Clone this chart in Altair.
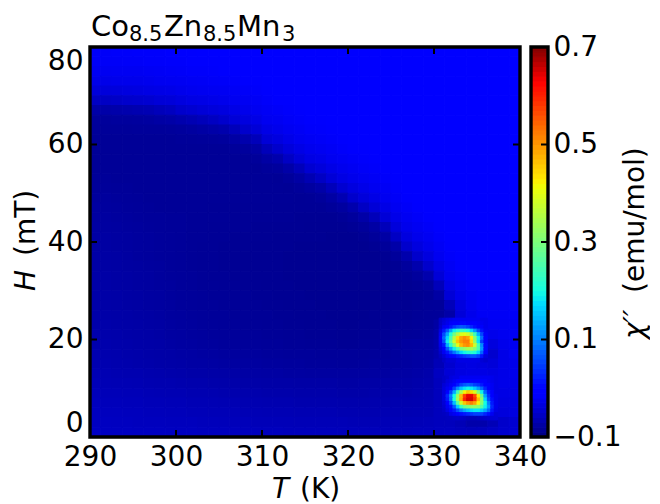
import altair as alt
import pandas as pd

FONT = "DejaVu Sans"
FS = 28

# chi'' background in units of 0.001 emu/mol: 1.25 K x 2 mT cells.
# Rows run from H=79 down to H=1; a short row keeps its last value up to T=340.
bg_T = [290.625, 291.875, 293.125, 294.375, 295.625, 296.875, 298.125, 299.375, 300.625, 301.875,
        303.125, 304.375, 305.625, 306.875, 308.125, 309.375, 310.625, 311.875, 313.125, 314.375,
        315.625, 316.875, 318.125, 319.375, 320.625, 321.875, 323.125, 324.375, 325.625, 326.875,
        328.125, 329.375, 330.625, 331.875, 333.125, 334.375, 335.625, 336.875, 338.125, 339.375]
bg_H = [79, 77, 75, 73, 71, 69, 67, 65, 63, 61, 59, 57, 55, 53, 51, 49, 47, 45, 43, 41,
        39, 37, 35, 33, 31, 29, 27, 25, 23, 21, 19, 17, 15, 13, 11, 9, 7, 5, 3, 1]
bg_rows = [
 [-16,-16,-15,-15,-14,-14,-14,-13,-13,-13,-12],
 [-17,-17,-17,-16,-16,-15,-15,-14,-14,-13,-13,-13,-13,-12],
 [-21,-21,-20,-20,-20,-19,-18,-17,-16,-15,-15,-14,-13,-13,-12],
 [-27,-27,-26,-25,-25,-24,-22,-21,-20,-19,-18,-17,-16,-15,-13,-13,-12],
 [-37,-37,-36,-34,-33,-31,-29,-28,-25,-23,-22,-21,-20,-18,-16,-15,-13,-12],
 [-53,-53,-51,-47,-46,-44,-40,-38,-34,-31,-29,-27,-25,-22,-20,-18,-15,-13,-13,-12],
 [-72,-72,-71,-69,-67,-65,-60,-56,-47,-44,-40,-37,-34,-29,-25,-22,-18,-16,-14,-13,-12],
 [-81,-81,-80,-80,-79,-78,-75,-73,-69,-65,-60,-54,-47,-40,-34,-29,-22,-20,-17,-15,-13,-13,-12],
 [-83,-83,-83,-83,-82,-82,-82,-81,-80,-78,-75,-72,-69,-60,-47,-40,-29,-25,-21,-18,-15,-14,-13,-12],
 [-84,-84,-84,-84,-84,-84,-84,-84,-83,-83,-82,-81,-80,-75,-69,-60,-40,-34,-27,-22,-19,-17,-15,-13,-12],
 [-84,-84,-84,-84,-84,-84,-84,-84,-84,-84,-84,-84,-84,-82,-80,-75,-60,-47,-37,-29,-24,-21,-18,-15,-13,-13,-12],
 [-84,-84,-84,-84,-84,-84,-84,-84,-84,-84,-84,-84,-84,-84,-84,-82,-75,-69,-53,-40,-31,-27,-22,-19,-16,-14,-13,-12],
 [-84,-84,-84,-84,-84,-84,-84,-84,-84,-84,-84,-84,-84,-84,-84,-85,-82,-80,-72,-60,-44,-37,-29,-24,-20,-17,-15,-13,-12],
 [-83,-83,-84,-84,-84,-84,-84,-84,-84,-84,-84,-84,-84,-84,-84,-84,-84,-85,-81,-75,-65,-53,-40,-31,-25,-21,-18,-15,-13,-12],
 [-82,-82,-83,-83,-84,-84,-84,-84,-84,-84,-84,-84,-84,-84,-84,-84,-84,-84,-85,-82,-78,-72,-60,-44,-34,-27,-22,-18,-14,-12],
 [-80,-80,-81,-82,-83,-84,-84,-84,-84,-84,-84,-84,-84,-84,-84,-84,-84,-84,-84,-85,-84,-81,-75,-65,-47,-37,-29,-22,-17,-13,-12],
 [-78,-79,-80,-81,-82,-83,-84,-84,-84,-84,-84,-85,-85,-85,-85,-85,-85,-85,-85,-85,-85,-85,-82,-78,-69,-53,-40,-29,-21,-16,-13,-12],
 [-77,-78,-79,-80,-81,-82,-82,-83,-83,-84,-84,-84,-84,-85,-85,-85,-85,-85,-85,-86,-86,-86,-86,-84,-80,-72,-60,-40,-27,-20,-16,-13,-12],
 [-76,-77,-78,-79,-80,-81,-82,-83,-83,-84,-84,-85,-85,-85,-85,-86,-86,-86,-86,-86,-87,-87,-87,-87,-85,-81,-75,-60,-37,-25,-20,-16,-13,-12],
 [-75,-76,-77,-78,-79,-80,-81,-82,-83,-84,-84,-85,-85,-86,-86,-86,-86,-87,-87,-87,-87,-87,-88,-88,-88,-86,-82,-75,-53,-34,-25,-20,-15,-12],
 [-75,-76,-77,-78,-79,-80,-81,-82,-83,-84,-85,-85,-86,-86,-86,-87,-87,-87,-87,-88,-88,-88,-88,-88,-88,-88,-86,-82,-72,-47,-34,-25,-18,-13,-12],
 [-74,-75,-76,-77,-79,-80,-81,-82,-83,-84,-85,-85,-86,-86,-87,-87,-87,-87,-88,-88,-88,-88,-88,-88,-88,-88,-88,-87,-81,-69,-47,-34,-22,-15,-12],
 [-74,-75,-76,-77,-78,-79,-80,-82,-83,-84,-85,-85,-86,-86,-87,-87,-87,-87,-88,-88,-88,-88,-88,-88,-88,-88,-88,-88,-86,-80,-69,-47,-29,-18,-13,-12],
 [-73,-74,-75,-76,-77,-78,-80,-81,-82,-83,-84,-85,-85,-86,-86,-87,-87,-87,-88,-88,-88,-88,-88,-88,-88,-88,-88,-88,-87,-85,-80,-69,-40,-22,-16,-13],
 [-73,-74,-75,-76,-77,-78,-79,-80,-82,-83,-84,-84,-85,-85,-86,-86,-87,-87,-87,-88,-88,-88,-88,-88,-88,-88,-88,-88,-88,-87,-85,-80,-60,-29,-20,-15,-14],
 [-72,-73,-74,-75,-76,-77,-78,-80,-81,-82,-83,-84,-84,-85,-85,-86,-86,-87,-87,-87,-88,-88,-88,-88,-88,-88,-88,-88,-88,-87,-86,-84,-75,-40,-25,-18,-15],
 [-72,-73,-74,-75,-76,-77,-78,-79,-81,-82,-83,-83,-84,-84,-85,-85,-86,-86,-87,-87,-87,-88,-88,-88,-88,-88,-88,-88,-87,-87,-85,-83,-82,-60,-34,-22,-16,-16,-16,-15],
 [-71,-72,-73,-74,-75,-76,-77,-79,-80,-81,-82,-83,-83,-84,-84,-85,-85,-86,-86,-87,-87,-87,-88,-88,-88,-88,-87,-87,-86,-86,-84,-83,-82,-72,-38,-25,-18,-18,-18,-17],
 [-70,-71,-72,-73,-74,-75,-76,-78,-79,-80,-81,-82,-83,-83,-84,-84,-85,-85,-86,-86,-87,-87,-87,-88,-88,-87,-87,-86,-85,-84,-83,-82,-75,-50,-40,-30,-25,-20,-20,-20],
 [-69,-70,-71,-72,-73,-74,-75,-77,-78,-79,-80,-81,-82,-82,-83,-83,-84,-84,-85,-85,-86,-86,-86,-87,-87,-86,-86,-85,-84,-83,-82,-80,-72,-50,-40,-30,-30,-25,-22,-20],
 [-68,-69,-70,-71,-72,-73,-74,-76,-77,-78,-79,-80,-81,-81,-82,-82,-83,-83,-84,-84,-85,-85,-85,-86,-86,-85,-85,-84,-82,-78,-77,-77,-70,-50,-40,-30,-30,-35,-25,-22],
 [-67,-68,-69,-70,-71,-72,-73,-74,-75,-76,-77,-78,-79,-79,-80,-80,-81,-81,-82,-82,-82,-83,-83,-83,-83,-83,-82,-82,-80,-78,-76,-75,-68,-50,-40,-30,-30,-45,-28,-22],
 [-66,-67,-68,-69,-70,-71,-72,-73,-74,-75,-75,-76,-77,-77,-78,-78,-79,-79,-80,-80,-81,-81,-81,-82,-82,-81,-80,-80,-79,-78,-76,-74,-62,-45,-35,-32,-35,-38,-28,-26],
 [-64,-65,-66,-67,-67,-68,-69,-70,-71,-72,-72,-73,-74,-74,-75,-75,-76,-76,-77,-77,-78,-78,-78,-78,-78,-78,-77,-77,-76,-75,-73,-70,-55,-40,-32,-30,-30,-32,-28,-26],
 [-62,-63,-64,-64,-65,-66,-67,-67,-68,-69,-69,-70,-71,-71,-72,-72,-73,-73,-73,-74,-74,-74,-74,-75,-75,-74,-74,-73,-73,-72,-70,-68,-58,-45,-35,-30,-28,-28,-27,-27],
 [-60,-61,-61,-62,-62,-63,-64,-65,-65,-66,-66,-67,-68,-68,-69,-69,-70,-70,-70,-71,-71,-71,-71,-72,-72,-72,-71,-71,-70,-70,-68,-66,-58,-50,-40,-30,-30,-30,-30,-30],
 [-58,-59,-59,-60,-60,-61,-61,-62,-62,-63,-63,-64,-65,-65,-66,-66,-67,-67,-67,-68,-68,-68,-68,-69,-69,-69,-68,-68,-67,-67,-66,-65,-58,-50,-40,-30,-30,-30,-33,-32],
 [-56,-57,-57,-58,-58,-59,-59,-60,-60,-61,-61,-62,-62,-62,-63,-63,-64,-64,-64,-65,-65,-65,-65,-66,-66,-66,-66,-65,-65,-65,-64,-63,-58,-55,-55,-55,-50,-45,-36,-34],
 [-55,-55,-56,-56,-57,-57,-57,-58,-58,-58,-59,-59,-60,-60,-60,-61,-61,-61,-61,-62,-62,-62,-62,-62,-63,-63,-63,-62,-62,-62,-61,-60,-58,-58,-62,-70,-70,-62,-48,-44],
 [-53,-54,-54,-54,-55,-55,-55,-56,-56,-56,-57,-57,-57,-57,-58,-58,-58,-58,-59,-59,-59,-59,-59,-60,-60,-60,-60,-60,-59,-59,-58,-58,-56,-55,-58,-60,-58,-52,-46,-43],
]

# finer cells around the upper peak: 0.4 K x 0.75 mT, same units
b1_T = [330.8, 331.2, 331.6, 332.0, 332.4, 332.8, 333.2, 333.6, 334.0, 334.4, 334.8, 335.2, 335.6, 336.0]
b1_H = [24.0, 23.25, 22.5, 21.75, 21.0, 20.25, 19.5, 18.75, 18.0, 17.25, 16.5, 15.75]
b1_rows = [
 [-50,-40,-30,-25,-20,-20,-20,-20,-20,-20,-20,-20,-25,-25],
 [-50,-35,-25,-15,-10,0,5,5,0,-10,-10,-15,-20,-25],
 [-45,-20,-5,15,40,60,70,65,50,30,10,-5,-15,-25],
 [-30,20,70,130,190,220,235,230,210,170,120,60,15,-20],
 [-20,60,130,210,290,350,390,400,380,320,240,140,55,-15],
 [-15,80,170,250,350,440,490,510,490,420,310,190,85,-10],
 [-20,60,190,270,380,460,500,520,520,440,320,180,50,-10],
 [-25,20,140,220,310,400,470,500,510,470,380,250,110,5],
 [-35,0,70,130,190,250,300,320,340,340,310,250,120,5],
 [-45,-20,15,50,90,130,170,195,210,220,210,170,80,-10],
 [-55,-40,-20,-10,5,20,30,45,55,65,65,50,15,-35],
 [-62,-50,-40,-40,-40,-30,-30,-30,-30,-30,-30,-30,-40,-45],
]

# finer cells around the lower peak
b2_T = [331.2, 331.6, 332.0, 332.4, 332.8, 333.2, 333.6, 334.0, 334.4, 334.8, 335.2, 335.6, 336.0, 336.4, 336.8, 337.2]
b2_H = [12.125, 11.375, 10.625, 9.875, 9.125, 8.375, 7.625, 6.875, 6.125, 5.375, 4.625, 3.875]
b2_rows = [
 [-50,-45,-35,-30,-30,-20,-20,-20,-20,-20,-20,-20,-20,-20,-25,-30],
 [-50,-35,-30,-20,-10,0,0,0,0,0,0,-10,-10,-20,-25,-30],
 [-40,-30,-20,0,20,50,70,80,70,50,40,20,0,-10,-20,-30],
 [-35,-20,0,50,110,150,180,195,185,160,120,80,30,0,-20,-30],
 [-35,-5,50,130,240,340,420,460,440,390,300,190,80,20,-10,-30],
 [-35,30,100,200,330,470,580,640,640,570,430,280,130,40,0,-25],
 [-35,20,90,210,340,480,600,650,650,590,470,320,170,60,10,-25],
 [-40,-5,50,150,270,380,460,500,520,490,420,310,200,100,20,-25],
 [-45,-20,10,70,160,230,280,300,320,320,310,260,190,120,30,-25],
 [-50,-30,-10,20,60,100,130,150,170,180,180,160,130,80,15,-30],
 [-55,-50,-30,-20,0,10,20,30,40,50,50,50,30,10,-20,-40],
 [-58,-56,-55,-52,-50,-52,-55,-60,-62,-62,-58,-52,-48,-45,-42,-40],
]

x_ticks = [290, 300, 310, 320, 330, 340]
y_ticks = [0, 20, 40, 60, 80]
c_ticks = [-0.1, 0.1, 0.3, 0.5, 0.7]
jet_domain = [-0.1, -0.012, 0.0, 0.172, 0.2, 0.412, 0.428, 0.612, 0.628, 0.7]
jet_range = ["#000080", "#0000ff", "#0000ff", "#00dbff", "#14ffe2", "#eeff08", "#ffec00", "#ff1300", "#ff0000", "#800000"]


def cells(Ts, Hs, rows, dT, dH):
    out = []
    for h, row in zip(Hs, rows):
        full = row + [row[-1]] * (len(Ts) - len(row))
        for t, v in zip(Ts, full):
            out.append({"T1": t - dT / 2, "T2": t + dT / 2, "H1": h - dH / 2, "H2": h + dH / 2, "v": v / 1000})
    return out


records = cells(bg_T, bg_H, bg_rows, 1.25, 2) + cells(b1_T, b1_H, b1_rows, 0.4, 0.75) + cells(b2_T, b2_H, b2_rows, 0.4, 0.75)
df = pd.DataFrame(records)

W, H, CW = 430, 390, 17
jet = alt.Scale(domain=jet_domain, range=jet_range, interpolate="rgb", clamp=True)
xs = alt.Scale(domain=[290, 340], nice=False, zero=False)
ys = alt.Scale(domain=[0, 80], nice=False, zero=False)
cs = alt.Scale(domain=[-0.1, 0.7], nice=False, zero=False)
one = alt.Data(values=[{"a": 1}])


def label(text, x, y, size=FS, italic=False, angle=0):
    return alt.Chart(one).mark_text(
        text=text, font=FONT, fontSize=size, align="left", baseline="alphabetic",
        fontStyle="italic" if italic else "normal", angle=angle, color="black",
    ).encode(x=alt.value(x), y=alt.value(y))


def frame(w):
    return alt.Chart(one).mark_rect(filled=False, stroke="black", strokeWidth=3.4).encode(
        x=alt.value(0), x2=alt.value(w), y=alt.value(0), y2=alt.value(H))


heat = alt.Chart(df).mark_rect(strokeWidth=1).encode(
    x=alt.X("T1:Q", scale=xs, title=None, axis=alt.Axis(
        values=x_ticks, grid=False, ticks=False, domain=False, labelFont=FONT, labelFontSize=FS,
        labelPadding=6, labelFlush=False, labelColor="black", format="d")),
    x2="T2:Q",
    y=alt.Y("H1:Q", scale=ys, title=None, axis=alt.Axis(
        values=y_ticks, grid=False, ticks=False, domain=False, labelFont=FONT, labelFontSize=FS,
        labelPadding=7, labelFlush=True, labelColor="black", format="d")),
    y2="H2:Q",
    color=alt.Color("v:Q", scale=jet, legend=None),
    stroke=alt.Stroke("v:Q", scale=jet, legend=None),
)

xt = pd.DataFrame({"T": x_ticks})
yt = pd.DataFrame({"H": y_ticks})
tick_marks = []
for yy, y2 in ((0, 7), (H, H - 7)):
    tick_marks.append(alt.Chart(xt).mark_rule(color="black", strokeWidth=2).encode(
        x=alt.X("T:Q", scale=xs), y=alt.value(yy), y2=alt.value(y2)))
for xx, x2 in ((0, 7), (W, W - 7)):
    tick_marks.append(alt.Chart(yt).mark_rule(color="black", strokeWidth=2).encode(
        y=alt.Y("H:Q", scale=ys), x=alt.value(xx), x2=alt.value(x2)))

main = alt.layer(
    heat, *tick_marks, frame(W),
    label("Co", 1, -11, 29), label("8.5", 39, -6.5, 21), label("Zn", 74, -11, 29),
    label("8.5", 113, -6.5, 21), label("Mn", 147, -11, 29), label("3", 192, -6.5, 21),
    label("T", 182, 451, italic=True), label("(K)", 210, 451),
    label("H", -55, 244, italic=True, angle=270), label("(mT)", -55, 209, angle=270),
).properties(width=W, height=H)

bar_vals = [round(-0.1 + 0.01 * i, 2) for i in range(80)]
bar = pd.DataFrame({"c1": bar_vals, "c2": [round(v + 0.01, 2) for v in bar_vals]})
bar["c"] = (bar["c1"] + bar["c2"]) / 2

cbar_cells = alt.Chart(bar).mark_rect(strokeWidth=1).encode(
    x=alt.value(0), x2=alt.value(CW),
    y=alt.Y("c1:Q", scale=cs, title=None, axis=alt.Axis(
        orient="right", values=c_ticks, grid=False, ticks=False, domain=False, labelFont=FONT,
        labelFontSize=FS, labelPadding=5, labelFlush=False, labelColor="black", format=".1f")),
    y2="c2:Q",
    color=alt.Color("c:Q", scale=jet, legend=None),
    stroke=alt.Stroke("c:Q", scale=jet, legend=None),
)
cbar_ticks = alt.Chart(pd.DataFrame({"c": c_ticks})).mark_rule(color="black", strokeWidth=2).encode(
    y=alt.Y("c:Q", scale=cs), x=alt.value(CW - 7), x2=alt.value(CW))

cbar = alt.layer(
    cbar_cells, cbar_ticks, frame(CW),
    label("\u03c7\u2032\u2032", 113, 292, italic=True, angle=270),
    label("(emu/mol)", 113, 246, angle=270),
).properties(width=CW, height=H)

chart = alt.hconcat(main, cbar, spacing=11, bounds="flush").resolve_scale(color="independent", stroke="independent").properties(
    padding={"left": 5, "top": 5, "right": 0, "bottom": 0}
).configure_view(stroke=None)

chart.save("out.html", embed_options={"renderer": "svg", "actions": False})
